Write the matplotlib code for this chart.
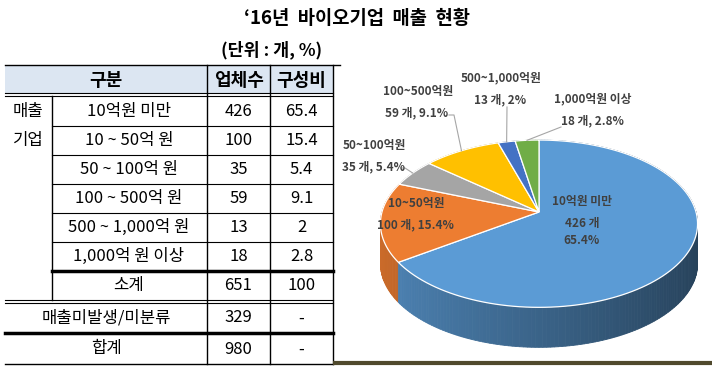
#'16 bio company sales table + 3D pie
import numpy as np
import matplotlib
matplotlib.use('Agg')
import matplotlib.pyplot as plt
from matplotlib.patches import Polygon, Rectangle

plt.rcParams['font.family'] = ['Noto Sans CJK KR', 'DejaVu Sans']

# data
categories = ['10억원 미만', '10 ~ 50억 원', '50 ~ 100억 원', '100 ~ 500억 원',
              '500 ~ 1,000억 원', '1,000억 원 이상']
pie_names = ['10억원 미만', '10~50억원', '50~100억원', '100~500억원',
             '500~1,000억원', '1,000억원 이상']
counts = [426, 100, 35, 59, 13, 18]
shares = [65.4, 15.4, 5.4, 9.1, 2, 2.8]
subtotal = ['소계', 651, 100]
unsold = ['매출미발생/미분류', 329, '-']
total = ['합계', 980, '-']
header = ['구분', '업체수', '구성비']
colors = ['#5B9BD5', '#ED7D31', '#A5A5A5', '#FFC000', '#4472C4', '#70AD47']

fig = plt.figure(figsize=(7.17, 3.73), dpi=100)
ax = fig.add_axes([0, 0, 1, 1])
ax.set_xlim(0, 717)
ax.set_ylim(373, 0)
ax.axis('off')

ax.text(357, 18, '‘16년  바이오기업  매출  현황', ha='center', va='center',
        fontsize=13.5, fontweight='bold')
ax.text(272, 50, '(단위 : 개, %)', ha='center', va='center',
        fontsize=12.5, fontweight='bold')

####################################################################
# table
xs = [5, 52, 207, 270, 333]
row_top = 97
row_h = 29
tfs = 12

ax.add_patch(Rectangle((xs[0], 65), xs[4] - xs[0], 28, facecolor='#DCE6F2', edgecolor='none'))
ax.plot([xs[0], 340], [65, 65], color='k', lw=1)
ax.plot([xs[0], xs[4]], [93, 93], color='k', lw=0.8)
ax.plot([xs[0], xs[4]], [96, 96], color='k', lw=0.8)
for x in xs[2:]:
    ax.plot([x, x], [65, 364], color='k', lw=1)
ax.plot([xs[1], xs[1]], [96, 300], color='k', lw=1)

hx = [(xs[0] + xs[2]) / 2, (xs[2] + xs[3]) / 2, (xs[3] + xs[4]) / 2]
for x, h in zip(hx, header):
    ax.text(x, 80, h, ha='center', va='center', fontsize=13, fontweight='bold')

for i, (c, n, s) in enumerate(zip(categories, counts, shares)):
    y = row_top + row_h * (i + 0.5)
    ax.text(hx[0] + 23, y, c, ha='center', va='center', fontsize=tfs)
    ax.text(hx[1], y, str(n), ha='center', va='center', fontsize=tfs)
    ax.text(hx[2], y, f'{s:g}', ha='center', va='center', fontsize=tfs)
    if i > 0:
        yl = row_top + row_h * i
        ax.plot([xs[1], xs[4]], [yl, yl], color='k', lw=0.8)
ax.text(28, row_top + row_h * 0.5, '매출', ha='center', va='center', fontsize=tfs)
ax.text(28, row_top + row_h * 1.5, '기업', ha='center', va='center', fontsize=tfs)

y_sub = row_top + row_h * len(categories)
ax.plot([xs[1], xs[4]], [y_sub, y_sub], color='k', lw=2.5)
ax.text(hx[0] + 23, y_sub + 14.5, subtotal[0], ha='center', va='center', fontsize=tfs)
ax.text(hx[1], y_sub + 14.5, str(subtotal[1]), ha='center', va='center', fontsize=tfs)
ax.text(hx[2], y_sub + 14.5, str(subtotal[2]), ha='center', va='center', fontsize=tfs)

ax.plot([xs[0], xs[4]], [300, 300], color='k', lw=0.8)
ax.plot([xs[0], xs[4]], [303, 303], color='k', lw=0.8)
ax.plot([xs[0], xs[4]], [333, 333], color='k', lw=2.5)
ax.plot([xs[0], xs[4]], [364, 364], color='k', lw=1)
for y, r in [(318, unsold), (349, total)]:
    ax.text(106, y, r[0], ha='center', va='center', fontsize=tfs)
    ax.text(hx[1], y, str(r[1]), ha='center', va='center', fontsize=tfs)
    ax.text(hx[2], y, str(r[2]), ha='center', va='center', fontsize=tfs)

####################################################################
# 3D pie (perspective ellipse)
cx, cy = 539, 212
A, B, p = 157, 82, 0.14
depth = 40

def rim(t):
    u, v = np.cos(t), np.sin(t)
    return cx + A * u / (1 + p * v), cy - B * v / (1 + p * v)

def shade(c, f):
    rgb = np.array(matplotlib.colors.to_rgb(c))
    return tuple(rgb * f)

fr = np.array(counts) / np.sum(counts)
bounds = np.pi / 2 - 2 * np.pi * np.concatenate([[0], np.cumsum(fr)])

# side walls, back to front
quads = []
for k in range(len(counts)):
    ts = np.linspace(bounds[k], bounds[k + 1], max(int(fr[k] * 300), 3))
    for t1, t2 in zip(ts[:-1], ts[1:]):
        x1, y1 = rim(t1)
        x2, y2 = rim(t2)
        u = np.cos((t1 + t2) / 2)
        f = 0.86 - 0.44 * (u + 1) / 2
        quads.append((np.sin((t1 + t2) / 2),
                      [(x1, y1), (x2, y2), (x2, y2 + depth), (x1, y1 + depth)],
                      shade(colors[k], f)))
quads.sort(key=lambda q: -q[0])
for _, pts, col in quads:
    ax.add_patch(Polygon(pts, closed=True, facecolor=col, edgecolor=col, lw=0.6))

# top face
for k in range(len(counts)):
    ts = np.linspace(bounds[k], bounds[k + 1], 120)
    px, py = rim(ts)
    pts = [(cx, cy)] + list(zip(px, py))
    ax.add_patch(Polygon(pts, closed=True, facecolor=colors[k], edgecolor='white', lw=0.9))

# labels
lab_col = '#404040'
lfs = 8.5
lab_pos = [(582, 202), (416, 203), (374, 145), (418, 91), (501, 78), (593, 99)]
for k, (x, y) in enumerate(lab_pos):
    ax.text(x, y, pie_names[k], ha='center', va='center', fontsize=lfs,
            fontweight='bold', color=lab_col)
    if k == 0:
        ax.text(x, y + 21, f'{counts[k]} 개', ha='center', va='center',
                fontsize=lfs, fontweight='bold', color=lab_col)
        ax.text(x, y + 39, f'{shares[k]:g}%', ha='center', va='center',
                fontsize=lfs, fontweight='bold', color=lab_col)
    else:
        ax.text(x - 1, y + 22, f'{counts[k]} 개, {shares[k]:g}%', ha='center',
                va='center', fontsize=lfs, fontweight='bold', color=lab_col)

# leader lines to the slice rims
lead_col = '#A6A6A6'
mids = (bounds[:-1] + bounds[1:]) / 2
lead_from = {2: [(401, 168), (405, 168)], 3: [(449, 115), (454, 115)],
             4: [(507, 107)], 5: [(561, 127)]}
for k, pts in lead_from.items():
    ex, ey = rim(mids[k])
    xx = [q[0] for q in pts] + [ex]
    yy = [q[1] for q in pts] + [ey]
    ax.plot(xx, yy, color=lead_col, lw=0.8)

# chart box bottom rule
ax.plot([333, 712], [363, 363], color='#504A2D', lw=3, solid_capstyle='butt')

plt.savefig('out.png', dpi=100)
